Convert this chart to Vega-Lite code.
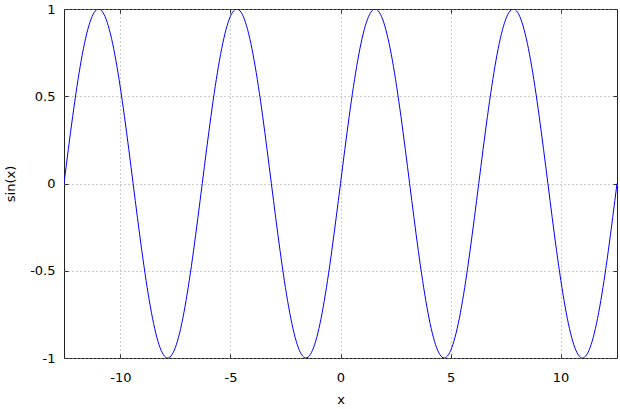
{
  "$schema": "https://vega.github.io/schema/vega-lite/v6.json",
  "autosize": "none",
  "width": 553,
  "height": 349,
  "padding": {"left": 64, "top": 9, "right": 3, "bottom": 51},
  "background": "white",
  "config": {
    "view": {"stroke": "#222222", "strokeWidth": 1},
    "font": "DejaVu Sans",
    "axis": {
      "labelFont": "DejaVu Sans", "labelFontSize": 13, "labelColor": "black",
      "titleFont": "DejaVu Sans", "titleFontSize": 13, "titleFontWeight": "normal", "titleColor": "black",
      "domain": false, "tickColor": "#333333", "tickSize": -4, "tickWidth": 1,
      "grid": true, "gridColor": "#999999", "gridDash": [1, 3], "gridWidth": 1, "gridOpacity": 1,
      "labelExpr": "toString(datum.value)"
    }
  },
  "data": {"values": [
    {"x": -12.566, "y": 0}, {"x": -12.174, "y": 0.3827}, {"x": -11.781, "y": 0.7071}, {"x": -11.388, "y": 0.9239},
    {"x": -10.996, "y": 1}, {"x": -10.603, "y": 0.9239}, {"x": -10.210, "y": 0.7071}, {"x": -9.817, "y": 0.3827},
    {"x": -9.425, "y": 0}, {"x": -9.032, "y": -0.3827}, {"x": -8.639, "y": -0.7071}, {"x": -8.247, "y": -0.9239},
    {"x": -7.854, "y": -1}, {"x": -7.461, "y": -0.9239}, {"x": -7.069, "y": -0.7071}, {"x": -6.676, "y": -0.3827},
    {"x": -6.283, "y": 0}, {"x": -5.890, "y": 0.3827}, {"x": -5.498, "y": 0.7071}, {"x": -5.105, "y": 0.9239},
    {"x": -4.712, "y": 1}, {"x": -4.320, "y": 0.9239}, {"x": -3.927, "y": 0.7071}, {"x": -3.534, "y": 0.3827},
    {"x": -3.142, "y": 0}, {"x": -2.749, "y": -0.3827}, {"x": -2.356, "y": -0.7071}, {"x": -1.963, "y": -0.9239},
    {"x": -1.571, "y": -1}, {"x": -1.178, "y": -0.9239}, {"x": -0.785, "y": -0.7071}, {"x": -0.393, "y": -0.3827},
    {"x": 0, "y": 0}, {"x": 0.393, "y": 0.3827}, {"x": 0.785, "y": 0.7071}, {"x": 1.178, "y": 0.9239},
    {"x": 1.571, "y": 1}, {"x": 1.963, "y": 0.9239}, {"x": 2.356, "y": 0.7071}, {"x": 2.749, "y": 0.3827},
    {"x": 3.142, "y": 0}, {"x": 3.534, "y": -0.3827}, {"x": 3.927, "y": -0.7071}, {"x": 4.320, "y": -0.9239},
    {"x": 4.712, "y": -1}, {"x": 5.105, "y": -0.9239}, {"x": 5.498, "y": -0.7071}, {"x": 5.890, "y": -0.3827},
    {"x": 6.283, "y": 0}, {"x": 6.676, "y": 0.3827}, {"x": 7.069, "y": 0.7071}, {"x": 7.461, "y": 0.9239},
    {"x": 7.854, "y": 1}, {"x": 8.247, "y": 0.9239}, {"x": 8.639, "y": 0.7071}, {"x": 9.032, "y": 0.3827},
    {"x": 9.425, "y": 0}, {"x": 9.817, "y": -0.3827}, {"x": 10.210, "y": -0.7071}, {"x": 10.603, "y": -0.9239},
    {"x": 10.996, "y": -1}, {"x": 11.388, "y": -0.9239}, {"x": 11.781, "y": -0.7071}, {"x": 12.174, "y": -0.3827},
    {"x": 12.566, "y": 0}
  ]},
  "layer": [
    {
      "mark": {"type": "line", "color": "#0000ff", "strokeWidth": 1, "interpolate": "natural", "clip": true},
      "encoding": {
        "x": {"field": "x", "type": "quantitative", "title": "x",
              "scale": {"domain": [-12.566, 12.566], "nice": false, "zero": false},
              "axis": {"values": [-10, -5, 0, 5, 10], "labelPadding": 17, "titlePadding": 9}},
        "y": {"field": "y", "type": "quantitative", "title": "sin(x)",
              "scale": {"domain": [-1, 1], "nice": false},
              "axis": {"values": [-1, -0.5, 0, 0.5, 1], "labelPadding": 13, "titlePadding": 12}}
      }
    },
    {
      "mark": {"type": "line", "opacity": 0},
      "encoding": {
        "x": {"field": "x", "type": "quantitative",
              "axis": {"orient": "top", "values": [-10, -5, 0, 5, 10], "labels": false, "grid": false, "title": null}},
        "y": {"field": "y", "type": "quantitative",
              "axis": {"orient": "right", "values": [-1, -0.5, 0, 0.5, 1], "labels": false, "grid": false, "title": null}}
      }
    }
  ],
  "resolve": {"axis": {"x": "independent", "y": "independent"}}
}
